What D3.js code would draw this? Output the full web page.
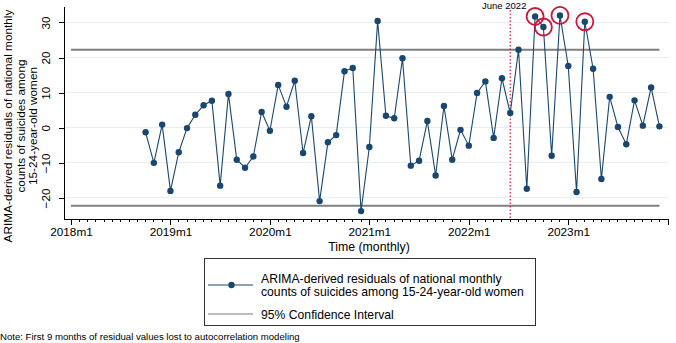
<!DOCTYPE html>
<meta charset="utf-8">
<style>
body { margin: 0; background: #fff; }
svg { font-family: "Liberation Sans", Arial, sans-serif; }
.axis path, .axis line { stroke: #000; fill: none; shape-rendering: crispEdges; }
.axis text { font-size: 11.8px; fill: #000; }
.grid line { stroke: #e6eff1; stroke-width: 1; shape-rendering: crispEdges; }
</style>
<body>
<div id="chart"></div>
<script src="https://cdn.jsdelivr.net/npm/d3@7"></script>
<script>
// first residual is 2018m10 (9 months lost)
var firstMonth = "2018m10";
var residuals = [
  -1.3, -10.0, 0.9,
  -18.0, -7.0, -0.1, 3.7, 6.4, 7.7, -16.5, 9.6, -9.1, -11.4, -8.2, 4.5,
  -0.85, 12.2, 6.0, 13.4, -7.2, 3.3, -20.9, -4.15, -2.1, 16.1, 17.0, -23.75,
  -5.5, 30.4, 3.4, 2.7, 19.8, -10.8, -9.4, 1.9, -13.6, 6.2, -9.1, -0.6,
  -5.1, 9.9, 13.2, -2.9, 14.1, 4.2, 22.2, -17.4, 31.7, 28.7, -8.0, 32.0,
  17.6, -18.3, 30.2, 16.8, -14.6, 8.8, 0.2, -4.7, 7.8, 0.6, 11.5, 0.4
];
var ciBounds = [-22.2, 22.2];
var ciRange = ["2018m1", "2023m12"];
var yTicks = [-20, -10, 0, 10, 20, 30];
var xTickLabels = ["2018m1", "2019m1", "2020m1", "2021m1", "2022m1", "2023m1", "2024m1"];
var flaggedMonths = ["2022m9", "2022m10", "2022m12", "2023m3"];
var eventMonth = "2022m6";
var eventLabel = "June 2022";

function monthIndex(s) {
  var p = s.split("m");
  return (+p[0] - 2018) * 12 + (+p[1] - 1);
}

var width = 676, height = 343;
var navy = "#1a476f", gray = "#7f7f7f", red = "#d1163c";

var svg = d3.select("#chart").append("svg")
  .attr("width", width).attr("height", height);

var x = d3.scaleLinear().domain([0, 72]).range([71, 667.7]);
var y = d3.scaleLinear().domain([-26, 34.4]).range([219, 7]);

var start = monthIndex(firstMonth);
var points = residuals.map(function(v, i) { return {m: start + i, v: v}; });

// gridlines
svg.append("g").attr("class", "grid")
  .selectAll("line").data(yTicks).enter().append("line")
  .attr("x1", 64).attr("x2", 668)
  .attr("y1", function(d) { return y(d); })
  .attr("y2", function(d) { return y(d); });

// axes
var yAxis = svg.append("g").attr("class", "axis")
  .attr("transform", "translate(64,0)")
  .call(d3.axisLeft(y).tickValues(yTicks).tickSize(5).tickSizeOuter(0));
yAxis.select(".domain").attr("d", "M0.5," + 7 + "V" + 219.5);
yAxis.selectAll(".tick text")
  .attr("transform", "rotate(-90)")
  .attr("x", 0).attr("y", -14)
  .attr("dy", "0")
  .style("text-anchor", "middle");

var xAxis = svg.append("g").attr("class", "axis")
  .attr("transform", "translate(0,219)")
  .call(d3.axisBottom(x).tickValues(d3.range(0, 73, 12))
    .tickFormat(function(d, i) { return d < 72 ? xTickLabels[i] : ""; })
    .tickSize(6).tickSizeOuter(0).tickPadding(3));
xAxis.select(".domain").attr("d", "M64,0.5H668");

xAxis.selectAll(".minor").data(d3.range(0, 72).filter(function(d) { return d % 12; }))
  .enter().append("line").attr("class", "minor")
  .attr("x1", function(d) { return x(d); }).attr("x2", function(d) { return x(d); })
  .attr("y1", 0).attr("y2", 3);

svg.append("text")
  .attr("x", 369).attr("y", 251)
  .attr("text-anchor", "middle").style("font-size", "12.3px")
  .text("Time (monthly)");

var yTitle = svg.append("text")
  .attr("transform", "translate(0,126) rotate(-90)")
  .attr("text-anchor", "middle").style("font-size", "11.8px");
["ARIMA-derived residuals of national monthly", "counts of suicides among", "15-24-year-old women"]
  .forEach(function(t, i) {
    yTitle.append("tspan").attr("x", 0).attr("y", 12 + i * 12.6).text(t);
  });

// confidence interval lines
svg.selectAll(".ci").data(ciBounds).enter().append("line")
  .attr("class", "ci")
  .attr("x1", x(monthIndex(ciRange[0]))).attr("x2", x(monthIndex(ciRange[1])))
  .attr("y1", function(d) { return y(d); }).attr("y2", function(d) { return y(d); })
  .attr("stroke", gray).attr("stroke-width", 2);

// event line
var ex = x(monthIndex(eventMonth));
svg.append("line")
  .attr("x1", ex).attr("x2", ex).attr("y1", 10).attr("y2", 219)
  .attr("stroke", red).attr("stroke-width", 1.2).attr("stroke-dasharray", "1.5,2");
svg.append("text")
  .attr("x", ex - 6).attr("y", 8.5)
  .attr("text-anchor", "middle").style("font-size", "9.5px")
  .text(eventLabel);

// series
var line = d3.line().x(function(d) { return x(d.m); }).y(function(d) { return y(d.v); });
svg.append("path").datum(points)
  .attr("d", line).attr("fill", "none")
  .attr("stroke", navy).attr("stroke-width", 1.1);
svg.selectAll(".pt").data(points).enter().append("circle")
  .attr("class", "pt")
  .attr("cx", function(d) { return x(d.m); })
  .attr("cy", function(d) { return y(d.v); })
  .attr("r", 3.2).attr("fill", navy);

// highlight circles
var flagged = points.filter(function(d) {
  return flaggedMonths.map(monthIndex).indexOf(d.m) >= 0;
});
svg.selectAll(".flag").data(flagged).enter().append("circle")
  .attr("class", "flag")
  .attr("cx", function(d) { return x(d.m); })
  .attr("cy", function(d) { return y(d.v); })
  .attr("r", 8.5).attr("fill", "none")
  .attr("stroke", red).attr("stroke-width", 1.8);

// legend
var lg = svg.append("g");
lg.append("rect").attr("x", 204.5).attr("y", 258.5).attr("width", 331).attr("height", 67)
  .attr("fill", "#fff").attr("stroke", "#333").attr("stroke-width", 1);
lg.append("line").attr("x1", 208).attr("x2", 253).attr("y1", 285).attr("y2", 285)
  .attr("stroke", navy).attr("stroke-width", 1.1);
lg.append("circle").attr("cx", 231.5).attr("cy", 285).attr("r", 3.2).attr("fill", navy);
lg.append("line").attr("x1", 208).attr("x2", 253).attr("y1", 314).attr("y2", 314)
  .attr("stroke", gray).attr("stroke-width", 1.2);
var lt = lg.append("text").style("font-size", "12.2px");
lt.append("tspan").attr("x", 261).attr("y", 282.5).text("ARIMA-derived residuals of national monthly");
lt.append("tspan").attr("x", 261).attr("y", 295.5).text("counts of suicides among 15-24-year-old women");
lg.append("text").attr("x", 261).attr("y", 318.5).style("font-size", "12.2px")
  .text("95% Confidence Interval");

svg.append("text").attr("x", 0).attr("y", 339.5).style("font-size", "9.6px")
  .text("Note: First 9 months of residual values lost to autocorrelation modeling");
</script>
</body>
